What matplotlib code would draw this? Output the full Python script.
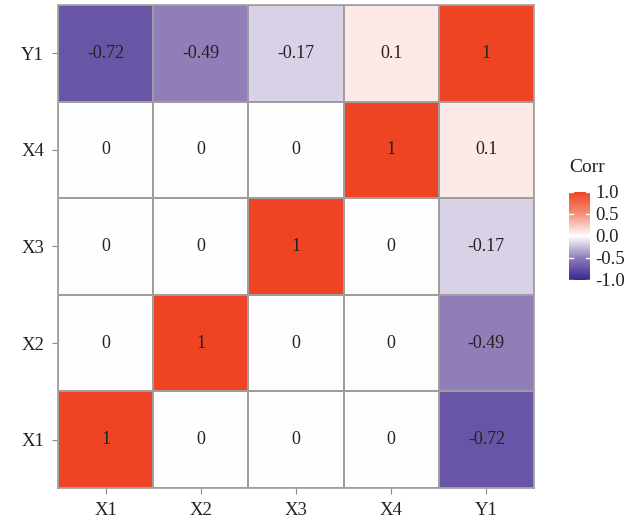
import numpy as np
import matplotlib
import matplotlib.pyplot as plt
from matplotlib.colors import LinearSegmentedColormap

matplotlib.use('agg')

# variables, bottom-to-top on y and left-to-right on x
labels = ["X1", "X2", "X3", "X4", "Y1"]

# correlation rows, one per variable (X1..Y1)
corr_x1 = [1, 0, 0, 0, -0.72]
corr_x2 = [0, 1, 0, 0, -0.49]
corr_x3 = [0, 0, 1, 0, -0.17]
corr_x4 = [0, 0, 0, 1, 0.1]
corr_y1 = [-0.72, -0.49, -0.17, 0.1, 1]

corr = np.array([corr_x1, corr_x2, corr_x3, corr_x4, corr_y1])

plt.rcParams['font.family'] = ['Liberation Serif', 'DejaVu Serif']
txt_color = "#222222"
cmap = LinearSegmentedColormap.from_list(
    "corr", ["#3b2690", "#8f7bb8", "#ffffff", "#f48f78", "#ee4424"])

fig = plt.figure(figsize=(6.34, 5.24), dpi=100)
ax = fig.add_axes([58 / 634, 1 - 488 / 524, 476 / 634, 483 / 524])

n = len(labels)
mesh = ax.pcolormesh(np.arange(n + 1), np.arange(n + 1), corr, cmap=cmap,
                     vmin=-1, vmax=1, edgecolors="#9e9e9e", linewidth=1.2)
for i in range(n):
    for j in range(n):
        v = corr[i, j]
        s = "%g" % v
        ax.text(j + 0.5, i + 0.5, s, ha="center", va="center",
                fontsize=13, color=txt_color)

ax.set_xlim(0, n)
ax.set_ylim(0, n)
ax.set_xticks(np.arange(n) + 0.5, labels)
ax.set_yticks(np.arange(n) + 0.5, labels)
ax.tick_params(length=4, color="#8a8a8a", labelsize=13.5, labelcolor=txt_color,
               pad=6)
for sp in ax.spines.values():
    sp.set_color("#9e9e9e")
    sp.set_linewidth(1.2)

# legend bar
cax = fig.add_axes([569 / 634, 1 - 280 / 524, 21 / 634, 88 / 524])
cb = fig.colorbar(mesh, cax=cax, ticks=[-1, -0.5, 0, 0.5, 1])
cb.outline.set_visible(False)
cb.ax.tick_params(length=0, labelsize=13.5, labelcolor=txt_color, pad=4)
cb.ax.set_yticklabels(["-1.0", "-0.5", "0.0", "0.5", "1.0"])
for t in [-1, -0.5, 0, 0.5, 1]:
    cax.plot([0, 0.2], [t, t], color="white", lw=1, transform=cax.get_yaxis_transform())
    cax.plot([0.8, 1], [t, t], color="white", lw=1, transform=cax.get_yaxis_transform())
fig.text(569 / 634, 1 - 168 / 524, "Corr", fontsize=14, color=txt_color,
         ha="left", va="center")

fig.savefig("out.png", dpi=100)
